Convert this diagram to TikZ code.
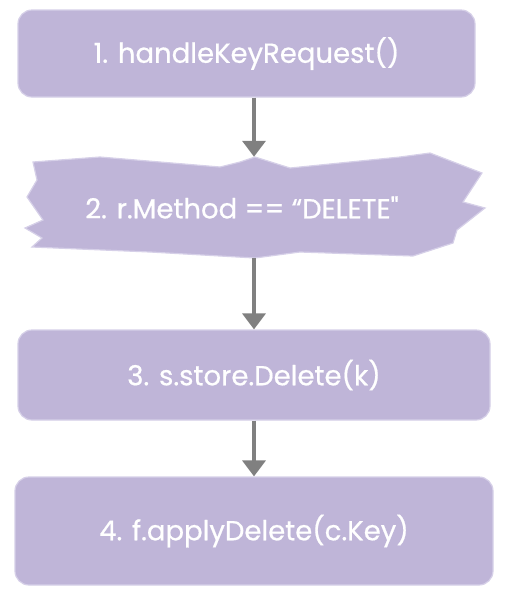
\documentclass[tikz,border=0pt]{standalone}
\usepackage{fontspec}
\setmainfont{Poppins}
\newfontfamily\stepfont{Poppins}[FakeBold=0.6]
\usetikzlibrary{positioning, arrows.meta}

\definecolor{lav}{HTML}{BFB5D8}
\definecolor{lavedge}{HTML}{D6D0E8}
\definecolor{flowgray}{HTML}{808080}

\begin{document}
\begin{tikzpicture}[x=1pt, y=-1pt,
    steptext/.style={font=\stepfont\fontsize{27.5}{31}\selectfont, text=white, inner sep=0pt},
    stepbox/.style={steptext, fill=lav, draw=lavedge, line width=1.2pt, rounded corners=14pt},
    flow/.style={flowgray, line width=3.5pt, -{Triangle[width=23pt, length=16pt]}}]
    \useasboundingbox (0,0) rectangle (506,606);
    % steps
    \node[stepbox, minimum width=457pt, minimum height=87pt] (handle) at (246.5,53.5) {1. handleKeyRequest()};
    % torn check box
    \fill[lav, draw=lavedge, line width=1.2pt] (33,162) -- (100,157) -- (220,167) -- (240,162) -- (255,157)
      -- (290,168) -- (400,157) -- (430,153) -- (482,173) -- (463,202) -- (485,208) -- (457,230)
      -- (453,243) -- (413,256) -- (300,252) -- (255,258) -- (150,252) -- (32,247) -- (42,238)
      -- (25,228) -- (43,220) -- (27,197) -- (37,180) -- cycle;
    \node[steptext, minimum width=460pt, minimum height=101pt] (method) at (242,207.5) {2. r.Method == “DELETE"};
    \node[stepbox, minimum width=472pt, minimum height=90pt] (store) at (254,375) {3. s.store.Delete(k)};
    \node[stepbox, minimum width=478pt, minimum height=108pt] (apply) at (254,531) {4. f.applyDelete(c.Key)};
    % arrows
    \draw[flow] (handle.south -| store.north) -- (store.north |- method.north);
    \draw[flow] (store.north |- method.south) -- (store.north);
    \draw[flow] (store.south) -- (apply.north);
  \end{tikzpicture}
\end{document}
